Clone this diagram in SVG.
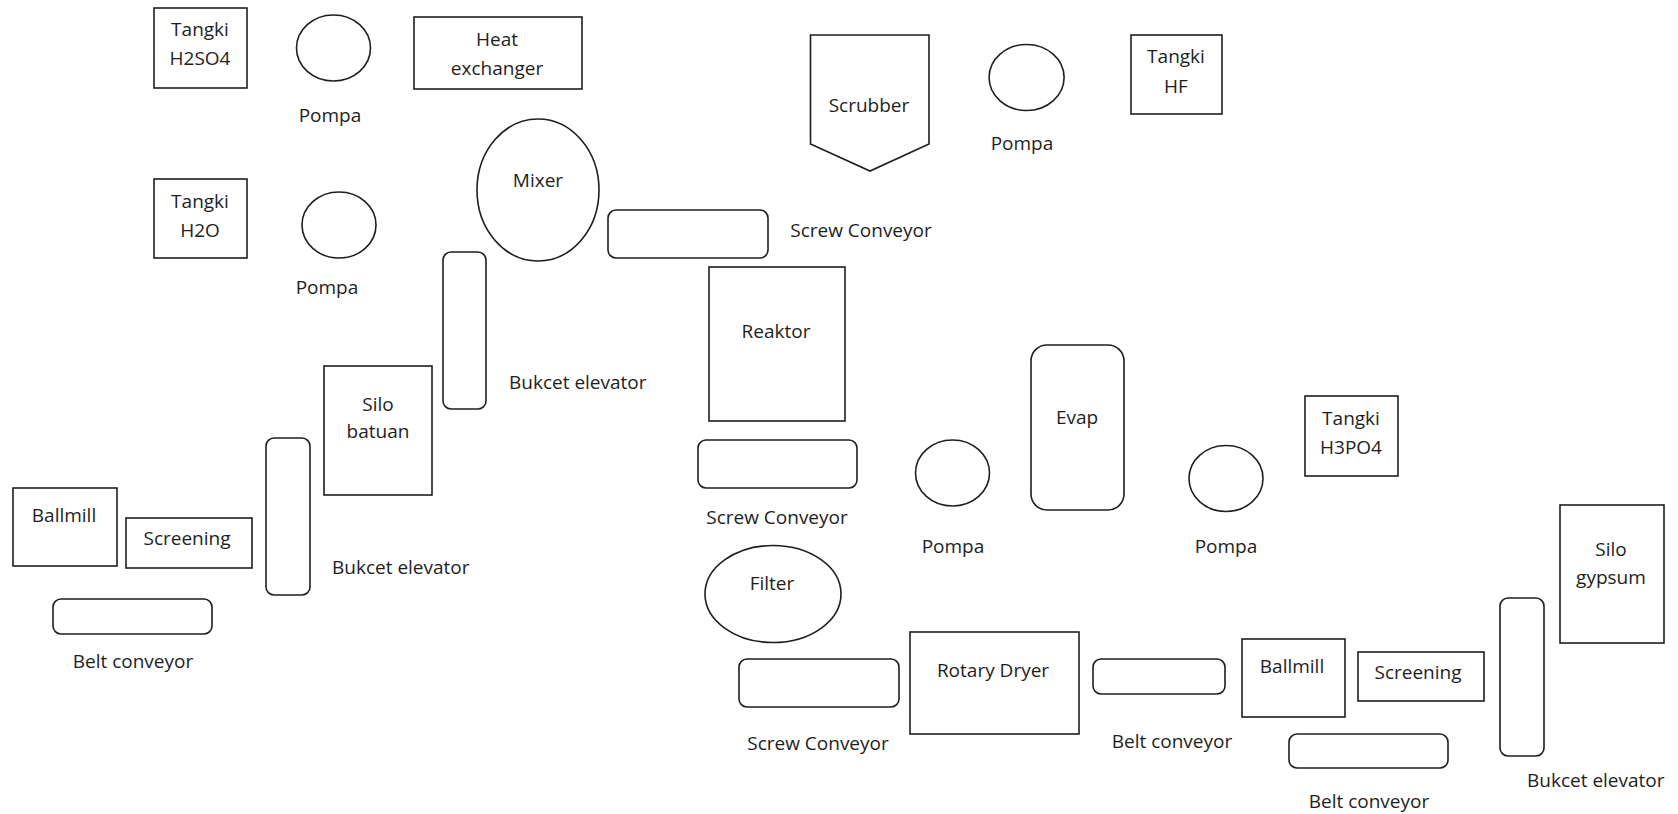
<svg xmlns="http://www.w3.org/2000/svg" width="1678" height="814" viewBox="0 0 1678 814">
<style>
.s{fill:#ffffff;stroke:#1e1e1e;stroke-width:1.6}
text{font-family:"Open Sans","Liberation Sans",sans-serif;font-size:19px;fill:#1e1e1e}
.c{text-anchor:middle}
</style>
<rect width="1678" height="814" fill="#ffffff"/>
<g id="connectors"></g>
<g id="tangki-h2so4"><rect class="s" x="154" y="8" width="93" height="80"/><text class="c" x="200" y="36">Tangki</text><text class="c" x="200" y="65">H2SO4</text></g>
<g id="pompa-1"><ellipse class="s" cx="333.5" cy="48" rx="37" ry="33"/><text class="c" x="330" y="122">Pompa</text></g>
<g id="heat-exchanger"><rect class="s" x="414" y="17" width="168" height="72"/><text class="c" x="497" y="46">Heat</text><text class="c" x="497" y="75">exchanger</text></g>
<g id="mixer"><ellipse class="s" cx="538" cy="190" rx="61" ry="71"/><text class="c" x="538" y="187">Mixer</text></g>
<g id="tangki-h2o"><rect class="s" x="154" y="179" width="93" height="79"/><text class="c" x="200" y="208">Tangki</text><text class="c" x="200" y="237">H2O</text></g>
<g id="pompa-2"><ellipse class="s" cx="339" cy="225" rx="37" ry="33"/><text class="c" x="327" y="294">Pompa</text></g>
<g id="bucket-elevator-1"><rect class="s" x="443" y="252" width="43" height="157" rx="8"/><text x="509" y="389">Bukcet elevator</text></g>
<g id="silo-batuan"><rect class="s" x="324" y="366" width="108" height="129"/><text class="c" x="378" y="411">Silo</text><text class="c" x="378" y="438">batuan</text></g>
<g id="bucket-elevator-2"><rect class="s" x="266" y="438" width="44" height="157" rx="8"/><text x="332" y="574">Bukcet elevator</text></g>
<g id="ballmill-1"><rect class="s" x="13" y="488" width="104" height="78"/><text class="c" x="64" y="522">Ballmill</text></g>
<g id="screening-1"><rect class="s" x="126" y="518" width="126" height="50"/><text class="c" x="187" y="545">Screening</text></g>
<g id="belt-conveyor-1"><rect class="s" x="53" y="599" width="159" height="35" rx="8"/><text class="c" x="133" y="668">Belt conveyor</text></g>
<g id="scrubber"><polygon class="s" points="810.5,35 929,35 929,144 870,171 810.5,144"/><text class="c" x="869" y="112">Scrubber</text></g>
<g id="pompa-3"><ellipse class="s" cx="1026.6" cy="77.5" rx="37.5" ry="33"/><text class="c" x="1022" y="150">Pompa</text></g>
<g id="tangki-hf"><rect class="s" x="1131" y="35" width="91" height="79"/><text class="c" x="1176" y="63">Tangki</text><text class="c" x="1176" y="93">HF</text></g>
<g id="screw-conveyor-1"><rect class="s" x="608" y="210" width="160" height="48" rx="8"/><text class="c" x="861" y="237">Screw Conveyor</text></g>
<g id="reaktor"><rect class="s" x="709" y="267" width="136" height="154"/><text class="c" x="776" y="338">Reaktor</text></g>
<g id="screw-conveyor-2"><rect class="s" x="698" y="440" width="159" height="48" rx="8"/><text class="c" x="777" y="524">Screw Conveyor</text></g>
<g id="pompa-4"><ellipse class="s" cx="952.5" cy="473" rx="37" ry="33"/><text class="c" x="953" y="553">Pompa</text></g>
<g id="evap"><rect class="s" x="1031" y="345" width="93" height="165" rx="16"/><text class="c" x="1077" y="424">Evap</text></g>
<g id="pompa-5"><ellipse class="s" cx="1226" cy="478.5" rx="37" ry="33"/><text class="c" x="1226" y="553">Pompa</text></g>
<g id="tangki-h3po4"><rect class="s" x="1305" y="396" width="93" height="80"/><text class="c" x="1351" y="425">Tangki</text><text class="c" x="1351" y="454">H3PO4</text></g>
<g id="filter"><ellipse class="s" cx="773" cy="594" rx="68" ry="48.5"/><text class="c" x="772" y="590">Filter</text></g>
<g id="screw-conveyor-3"><rect class="s" x="739" y="659" width="160" height="48" rx="8"/><text class="c" x="818" y="750">Screw Conveyor</text></g>
<g id="rotary-dryer"><rect class="s" x="910" y="632" width="169" height="102"/><text class="c" x="993" y="677">Rotary Dryer</text></g>
<g id="belt-conveyor-2"><rect class="s" x="1093" y="659" width="132" height="35" rx="8"/><text class="c" x="1172" y="748">Belt conveyor</text></g>
<g id="ballmill-2"><rect class="s" x="1242" y="639" width="103" height="78"/><text class="c" x="1292" y="673">Ballmill</text></g>
<g id="screening-2"><rect class="s" x="1358" y="652" width="126" height="49"/><text class="c" x="1418" y="679">Screening</text></g>
<g id="belt-conveyor-3"><rect class="s" x="1289" y="734" width="159" height="34" rx="8"/><text class="c" x="1369" y="808">Belt conveyor</text></g>
<g id="bucket-elevator-3"><rect class="s" x="1500" y="598" width="44" height="158" rx="8"/><text x="1527" y="787">Bukcet elevator</text></g>
<g id="silo-gypsum"><rect class="s" x="1560" y="505" width="104" height="138"/><text class="c" x="1611" y="556">Silo</text><text class="c" x="1611" y="584">gypsum</text></g>
</svg>
